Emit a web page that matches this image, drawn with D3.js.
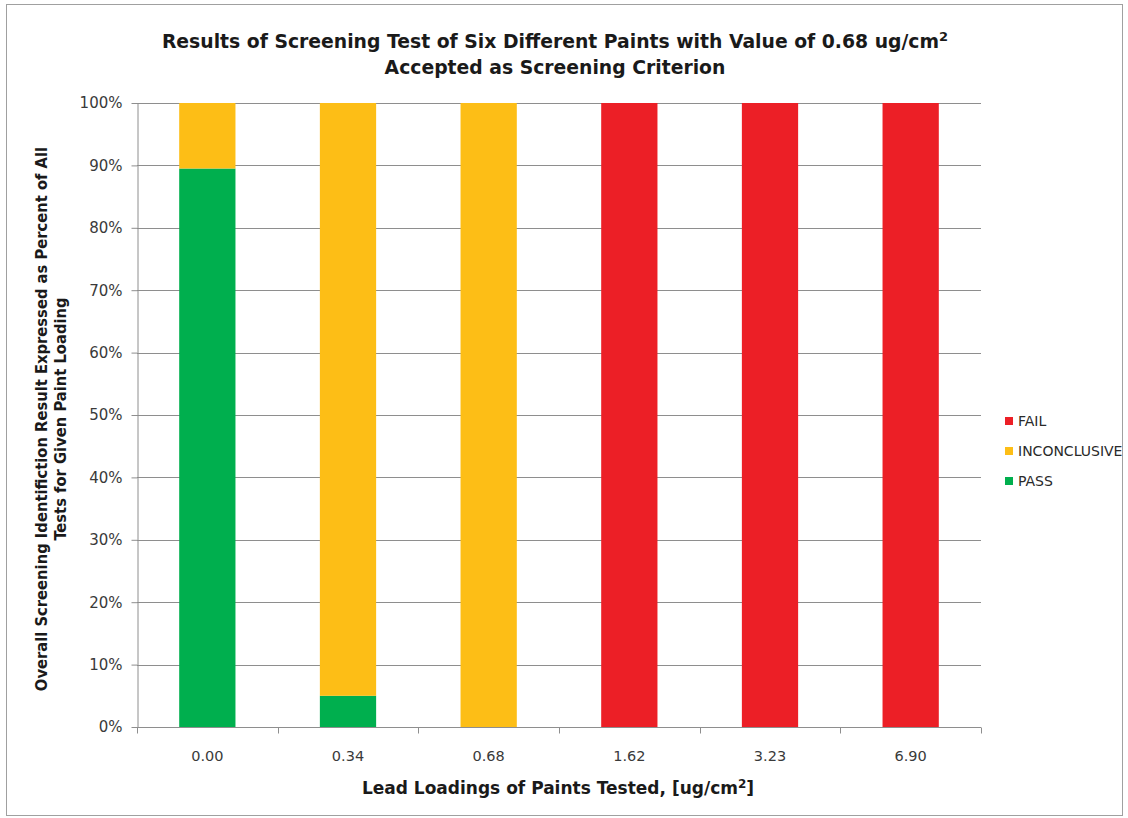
<!DOCTYPE html>
<html>
<head>
<meta charset="utf-8">
<script src="https://cdn.jsdelivr.net/npm/d3@7"></script>
<style>
  html, body { margin: 0; padding: 0; background: #fff; }
  svg { display: block; }
</style>
</head>
<body>
<svg id="chart" width="1128" height="818"></svg>
<script>
// Lead loadings of the six paints (x categories)
const categories = ["0.00", "0.34", "0.68", "1.62", "3.23", "6.90"];
// Share of tests per outcome, percent
const passValues = [89.5, 5, 0, 0, 0, 0];
const inconclusiveValues = [10.5, 95, 100, 0, 0, 0];
const failValues = [0, 0, 0, 100, 100, 100];
const yTicks = [0, 10, 20, 30, 40, 50, 60, 70, 80, 90, 100];

const seriesNames = ["PASS", "INCONCLUSIVE", "FAIL"];
const seriesColors = { PASS: "#00AF4E", INCONCLUSIVE: "#FDBE16", FAIL: "#EC1F26" };

const rows = categories.map((c, i) => ({
  cat: c,
  PASS: passValues[i],
  INCONCLUSIVE: inconclusiveValues[i],
  FAIL: failValues[i]
}));

const svg = d3.select("#chart");
const fontRegular = "'DejaVu Sans', Verdana, sans-serif";
const fontBold = "'DejaVu Sans', Verdana, sans-serif";
const fontCond = "'DejaVu Sans Condensed', 'DejaVu Sans', sans-serif";
const plot = { left: 137, right: 981, top: 103, bottom: 727 };

// outer frame
svg.append("rect")
  .attr("x", 6.5).attr("y", 4.5).attr("width", 1116).attr("height", 811)
  .attr("fill", "#fff").attr("stroke", "#a0a0a0").attr("stroke-width", 1);

const x = d3.scaleBand().domain(categories).range([plot.left, plot.right]).paddingInner(0.6).paddingOuter(0.3);
const y = d3.scaleLinear().domain([0, 100]).range([plot.bottom, plot.top]);

// gridlines
svg.append("g")
  .selectAll("line")
  .data(yTicks.filter(t => t > 0))
  .join("line")
  .attr("x1", plot.left).attr("x2", plot.right)
  .attr("y1", d => Math.round(y(d)) + 0.5).attr("y2", d => Math.round(y(d)) + 0.5)
  .attr("stroke", "#8e8e8e").attr("stroke-width", 1);

// stacked bars
const stack = d3.stack().keys(seriesNames)(rows);
svg.append("g")
  .selectAll("g")
  .data(stack)
  .join("g")
  .attr("fill", d => seriesColors[d.key])
  .selectAll("rect")
  .data(d => d)
  .join("rect")
  .attr("x", d => x(d.data.cat))
  .attr("width", x.bandwidth())
  .attr("y", d => y(d[1]))
  .attr("height", d => y(d[0]) - y(d[1]));

// y axis
const yAxis = d3.axisLeft(y).tickValues(yTicks).tickFormat(d => d + "%").tickSize(6).tickSizeOuter(0);
const gy = svg.append("g")
  .attr("transform", `translate(${plot.left + 0.5},0)`)
  .call(yAxis);
gy.select(".domain").attr("stroke", "#8e8e8e");
gy.selectAll(".tick line").attr("stroke", "#8e8e8e");
gy.selectAll(".tick text")
  .attr("x", -15)
  .attr("fill", "#3a3a3a")
  .style("font-family", fontRegular).style("font-size", "15px");

// x axis: ticks sit on category boundaries
const gx = svg.append("g")
  .attr("transform", `translate(0,${plot.bottom + 0.5})`);
gx.append("line")
  .attr("x1", plot.left).attr("x2", plot.right)
  .attr("stroke", "#8e8e8e");
const boundaries = d3.range(categories.length + 1).map(i => plot.left + i * (plot.right - plot.left) / categories.length);
gx.selectAll("line.tk")
  .data(boundaries)
  .join("line")
  .attr("class", "tk")
  .attr("x1", d => Math.round(d) + 0.5).attr("x2", d => Math.round(d) + 0.5)
  .attr("y1", 0).attr("y2", 6)
  .attr("stroke", "#8e8e8e");
gx.selectAll("text")
  .data(categories)
  .join("text")
  .attr("x", d => x(d) + x.bandwidth() / 2)
  .attr("y", 33)
  .attr("text-anchor", "middle")
  .attr("fill", "#3a3a3a")
  .style("font-family", fontRegular).style("font-size", "14.5px")
  .text(d => d);

// title
const title = svg.append("text")
  .attr("text-anchor", "middle")
  .style("font-family", fontBold).style("font-size", "18.8px").style("font-weight", "bold")
  .attr("fill", "#1a1a1a");
const t1 = title.append("tspan").attr("x", 555).attr("y", 48);
t1.append("tspan").text("Results of Screening Test of Six Different Paints with Value of 0.68 ug/cm");
t1.append("tspan").attr("dy", -7).style("font-size", "13px").text("2");
title.append("tspan").attr("x", 555).attr("y", 74).text("Accepted as Screening Criterion");

// x axis title
const xt = svg.append("text")
  .attr("x", 558).attr("y", 794)
  .attr("text-anchor", "middle")
  .style("font-family", fontBold).style("font-size", "17px").style("font-weight", "bold")
  .attr("fill", "#1a1a1a");
xt.append("tspan").text("Lead Loadings of Paints Tested, [ug/cm");
xt.append("tspan").attr("dy", -6).style("font-size", "12px").text("2");
xt.append("tspan").attr("dy", 6).text("]");

// y axis title (two lines)
const yt = svg.append("text")
  .attr("transform", `translate(0,${(plot.top + plot.bottom) / 2 + 4}) rotate(-90)`)
  .attr("text-anchor", "middle")
  .style("font-family", fontCond).style("font-size", "16.4px").style("font-weight", "bold")
  .attr("fill", "#1a1a1a");
yt.append("tspan").attr("x", 0).attr("y", 47).text("Overall Screening Identifiction Result Expressed as Percent of All");
yt.append("tspan").attr("x", 0).attr("y", 66).text("Tests for Given Paint Loading");

// legend
const legendItems = ["FAIL", "INCONCLUSIVE", "PASS"];
const lg = svg.append("g");
const li = lg.selectAll("g")
  .data(legendItems)
  .join("g")
  .attr("transform", (d, i) => `translate(1005,${421 + i * 30})`);
li.append("rect")
  .attr("x", 0).attr("y", -4).attr("width", 8).attr("height", 8)
  .attr("fill", d => seriesColors[d]);
li.append("text")
  .attr("x", 13).attr("y", 5)
  .attr("fill", "#2a2a2a")
  .style("font-family", fontRegular).style("font-size", "14px")
  .text(d => d);
</script>
</body>
</html>
